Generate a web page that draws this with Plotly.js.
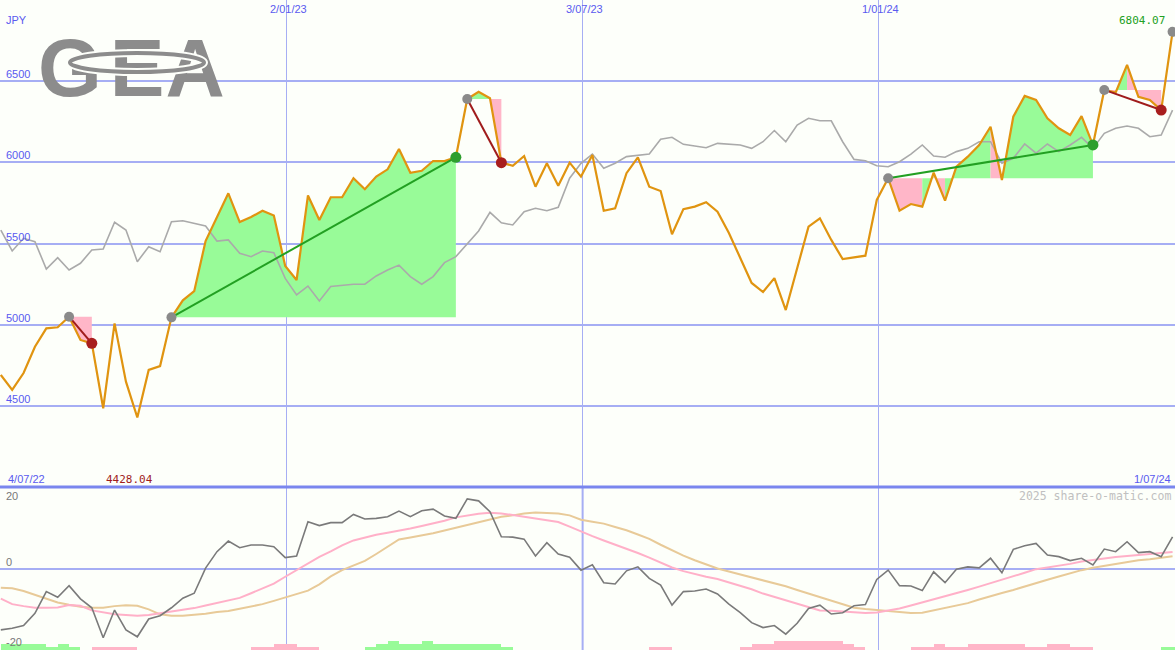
<!DOCTYPE html>
<html><head><meta charset="utf-8">
<script src="https://cdn.plot.ly/plotly-3.0.1.min.js"></script>
<style>html,body{margin:0;padding:0;background:#fdfffa;}#chart{width:1175px;height:650px;}</style>
</head><body><div id="chart"></div>
<script>
// ---- data ----
const firstWeek = '2022-07-10';   // weekly closes, one per week
const price = [4690,4598,4702,4864,4977,4984,5049,4906,4885,4485,
  5008,4649,4428.04,4721,4745,5045,5150,5206,5515,5663,
  5809,5632,5663,5702,5672,5362,5275,5796,5645,5785,
  5785,5902,5834,5912,5957,6082,5936,5948,6008,6008,
  6031,6390,6435,6395,5998,5979,6039,5850,5994,5856,
  5998,5912,6045,5702,5717,5933,6031,5850,5823,5557,
  5712,5727,5754,5696,5565,5411,5257,5201,5287,5090,
  5355,5604,5655,5522,5404,5416,5425,5768,5902,5702,
  5743,5727,5936,5764,5973,6035,6107,6219,5891,6281,
  6409,6384,6271,6210,6168,6285,6107,6446,6430,6600,
  6404,6384,6322,6804.07];
const indexLine = [5583,5454,5532,5511,5343,5413,5337,5378,5460,5466,
  5631,5583,5388,5480,5449,5634,5640,5624,5608,5515,
  5522,5440,5419,5454,5443,5285,5183,5238,5146,5235,
  5244,5249,5250,5300,5337,5367,5296,5249,5296,5382,
  5419,5500,5577,5692,5628,5614,5696,5717,5702,5723,
  5902,5994,6051,5963,5994,6035,6041,6051,6142,6154,
  6111,6102,6090,6117,6111,6107,6086,6127,6196,6127,
  6230,6271,6256,6256,6127,6018,6010,5979,5973,6004,
  6051,6107,6039,6031,6066,6086,6127,6127,5994,6025,
  6113,6056,6113,6066,6107,6154,6086,6179,6210,6224,
  6210,6158,6168,6322];
const osc = [-18.6,-18.1,-17.3,-13.6,-7.0,-8.7,-5.2,-9.2,-11.9,-21.0,
  -12.6,-18.6,-20.7,-15.3,-14.3,-11.9,-9.0,-7.5,0.1,5.1,
  8.3,6.3,7.1,7.1,6.6,3.3,3.8,14.2,13.0,13.9,
  13.9,16.4,15.0,15.2,15.7,17.4,15.7,17.5,18.0,15.9,
  15.2,21.1,20.5,17.2,9.6,9.5,8.9,3.8,7.8,4.4,
  3.4,-0.5,1.1,-4.3,-4.7,-0.7,0.5,-3.0,-5.0,-11.1,
  -7.0,-6.8,-6.2,-7.7,-10.8,-13.4,-16.4,-17.9,-17.3,-19.9,
  -16.6,-12.1,-11.1,-13.8,-13.4,-11.3,-10.9,-3.3,-0.5,-5.2,
  -5.3,-6.7,-1.0,-4.3,-0.2,0.5,0.2,3.1,-1.3,5.8,
  6.9,7.6,4.1,3.6,2.4,3.1,1.1,5.9,5.1,8.1,
  4.8,5.1,3.6,9.6];
const oscFast = [-9.1,-10.8,-11.4,-11.9,-11.9,-11.8,-11.1,-11.3,-12.7,-13.3,
  -13.9,-14.1,-14.3,-14.1,-13.6,-12.9,-12.5,-12.0,-11.2,-10.5,
  -9.7,-8.9,-7.5,-6.1,-4.6,-2.5,-0.5,1.4,3.5,5.2,
  7.0,8.5,9.4,10.2,10.8,11.4,12.1,12.9,13.6,14.5,
  15.5,16.1,16.6,16.9,16.7,16.2,15.7,15.2,14.7,14.1,
  12.7,11.2,9.8,8.5,7.3,6.0,4.7,3.3,1.7,0.3,
  -0.8,-1.7,-2.5,-3.2,-4.2,-5.1,-6.3,-7.6,-8.6,-9.6,
  -10.6,-11.6,-12.7,-12.8,-13.1,-13.4,-13.5,-13.3,-12.8,-12.1,
  -11.2,-10.3,-9.4,-8.5,-7.5,-6.5,-5.5,-4.5,-3.4,-2.4,
  -1.3,-0.2,0.3,0.8,1.4,2.1,2.6,3.1,3.5,3.8,
  4.1,4.4,4.7,5.0];
const oscSlow = [-5.8,-6.0,-6.8,-8.0,-9.3,-10.3,-11.0,-11.6,-11.9,-11.9,
  -11.4,-11.1,-11.3,-12.4,-13.9,-14.3,-14.3,-14.1,-13.7,-13.2,
  -12.9,-12.2,-11.6,-10.8,-9.8,-8.8,-7.7,-6.7,-4.8,-2.4,
  -0.5,1.0,2.3,4.4,6.6,8.8,9.4,10.0,10.7,11.5,
  12.3,13.1,13.9,14.8,15.7,16.1,16.7,17.0,16.9,16.7,
  16.1,14.8,14.2,13.6,12.6,11.6,10.3,9.0,7.2,5.5,
  3.9,2.5,1.2,0.0,-0.9,-1.8,-2.7,-3.5,-4.5,-5.4,
  -6.5,-7.6,-8.6,-9.6,-10.8,-11.9,-12.3,-12.6,-12.9,-13.1,
  -13.5,-13.4,-12.7,-12.0,-11.3,-10.5,-9.4,-8.3,-7.4,-6.5,
  -5.4,-4.4,-3.4,-2.4,-1.4,-0.5,0.2,0.8,1.5,2.1,
  2.5,2.8,3.3,3.7];
const barLevels = [2,2,2,2,1,2,1,0,-1,-1,
  -1,-1,0,0,0,0,0,0,0,0,
  0,0,-1,-1,-2,-2,-1,-1,0,0,
  0,0,1,2,3,2,2,3,2,2,
  2,2,2,2,1,0,0,0,0,0,
  0,0,0,0,0,0,0,-1,-1,0,
  0,0,0,0,0,-1,-2,-2,-3,-3,
  -3,-3,-3,-3,-2,-1,0,0,0,0,
  -1,-1,-2,-1,-1,-2,-2,-2,-2,-2,
  -1,-1,-2,-2,-1,-1,0,0,0,0,
  0,0,1,1];
const sigStart = [6,15,41,78,97,103];
const sigEnd   = [8,40,44,96,102,null];
const priceTicks = [4500,5000,5500,6000,6500];
const dateTicks = ['2023-01-02','2023-07-03','2024-01-01'];
const dateTickText = ['2/01/23','3/07/23','1/01/24'];
const oscTicks = [20,0,-20];
const oscTickText = ['20','0','-20'];
const currency = 'JPY';
const firstLabel = '4/07/22', lastLabel = '1/07/24';
const watermark = '2025 share-o-matic.com';
const logoLetters = ['G','E','A'];

// ---- styles ----
const BG = '#fdfffa', GRID = '#a6aef4', SEP = '#7a86ee', LBL = '#5a5af0';
const ORANGE = '#e09410', GREYLINE = '#aaaaaa', GFILL = '#98fb98', PFILL = '#ffb6c8';
const GTREND = '#22a022', RTREND = '#a01c1c', LOGO = '#8c8c8c';
const H = 650, LOWER = 163 / 650;

// weekly dates
const dates = [];
{ const d0 = new Date(firstWeek + 'T00:00:00Z');
  for (let k = 0; k < price.length; k++) {
    const d = new Date(d0.getTime() + k * 7 * 86400000);
    dates.push(d.toISOString().slice(0, 10));
  } }

const traces = [];
// fills between price and the signal's entry level
sigStart.forEach((s, i) => {
  const e = sigEnd[i]; if (e === null) return;
  const base = price[s];
  let a = s;
  while (a < e) {
    const up = price[a + 1] >= base;
    let b = a;
    while (b + 1 < e && (price[b + 2] >= base) === up) b++;
    const xs = dates.slice(a, b + 2), ys = price.slice(a, b + 2);
    xs.push(dates[b + 1], dates[a]); ys.push(base, base);
    traces.push({x: xs, y: ys, type: 'scatter', mode: 'lines', fill: 'toself',
      fillcolor: up ? GFILL : PFILL, line: {width: 0}, hoverinfo: 'skip',
      xaxis: 'x', yaxis: 'y'});
    a = b + 1;
  }
});
traces.push({x: dates, y: indexLine, type: 'scatter', mode: 'lines',
  line: {color: GREYLINE, width: 1.6}, xaxis: 'x', yaxis: 'y'});
traces.push({x: dates, y: price, type: 'scatter', mode: 'lines',
  line: {color: ORANGE, width: 2.2}, xaxis: 'x', yaxis: 'y'});
sigStart.forEach((s, i) => {
  const e = sigEnd[i]; if (e === null) return;
  const gain = price[e] >= price[s];
  traces.push({x: [dates[s], dates[e]], y: [price[s], price[e]], type: 'scatter', mode: 'lines',
    line: {color: gain ? GTREND : RTREND, width: 2}, xaxis: 'x', yaxis: 'y'});
});
traces.push({x: sigStart.map(s => dates[s]), y: sigStart.map(s => price[s]), type: 'scatter',
  mode: 'markers', marker: {color: '#8a8a8a', size: 10}, xaxis: 'x', yaxis: 'y'});
const ends = sigEnd.map((e, i) => [e, sigStart[i]]).filter(p => p[0] !== null);
traces.push({x: ends.map(p => dates[p[0]]), y: ends.map(p => price[p[0]]), type: 'scatter',
  mode: 'markers', marker: {color: ends.map(p => price[p[0]] >= price[p[1]] ? '#2e9e2e' : '#a81e1e'), size: 11},
  xaxis: 'x', yaxis: 'y'});

// lower panel
traces.push({x: dates, y: barLevels.map(Math.abs), type: 'bar', width: 7 * 86400000, offset: 0,
  marker: {color: barLevels.map(v => v >= 0 ? GFILL : PFILL), line: {width: 0}},
  xaxis: 'x2', yaxis: 'y3'});
traces.push({x: dates, y: oscSlow, type: 'scatter', mode: 'lines', line: {color: '#e8ca98', width: 2}, xaxis: 'x2', yaxis: 'y2'});
traces.push({x: dates, y: oscFast, type: 'scatter', mode: 'lines', line: {color: '#ffb0c8', width: 2}, xaxis: 'x2', yaxis: 'y2'});
traces.push({x: dates, y: osc, type: 'scatter', mode: 'lines', line: {color: '#7a7a7a', width: 1.6}, xaxis: 'x2', yaxis: 'y2'});

// logo letters (pixel-space helper axes x4/y4)
traces.push({x: [70, 137, 195], y: [75, 75, 75], type: 'scatter', mode: 'text', text: logoLetters,
  textposition: 'middle center', textfont: {family: 'Liberation Sans, Arial, sans-serif', size: 82, color: LOGO, weight: 'bold'},
  xaxis: 'x4', yaxis: 'y4', hoverinfo: 'skip'});

// annotations
const py = p => 1 - p / H;
const ann = [];
const f = (size, color, family) => ({size, color, family: family || 'Liberation Sans, Arial, sans-serif'});
priceTicks.forEach(v => ann.push({xref: 'paper', x: 0, xanchor: 'left', xshift: 4, yref: 'y', y: v,
  yanchor: 'middle', yshift: 7, text: String(v), showarrow: false, font: f(11, LBL)}));
dateTicks.forEach((d, i) => ann.push({xref: 'x', x: d, xanchor: 'center', xshift: 2, yref: 'paper', y: py(9),
  yanchor: 'middle', text: dateTickText[i], showarrow: false, font: f(11, LBL)}));
ann.push({xref: 'paper', x: 0, xanchor: 'left', xshift: 4, yref: 'paper', y: py(20), yanchor: 'middle',
  text: currency, showarrow: false, font: f(11, LBL)});
ann.push({xref: 'paper', x: 0, xanchor: 'left', xshift: 6, yref: 'paper', y: py(479), yanchor: 'middle',
  text: firstLabel, showarrow: false, font: f(11, LBL)});
ann.push({xref: 'paper', x: 1, xanchor: 'right', xshift: -2, yref: 'paper', y: py(479), yanchor: 'middle',
  text: lastLabel, showarrow: false, font: f(11, LBL)});
const maxI = price.indexOf(Math.max(...price)), minI = price.indexOf(Math.min(...price));
ann.push({xref: 'x', x: dates[maxI], xanchor: 'right', xshift: -6, yref: 'paper', y: py(20), yanchor: 'middle',
  text: price[maxI].toFixed(2), showarrow: false, font: f(11, '#22a022', 'DejaVu Sans Mono, monospace')});
ann.push({xref: 'x', x: dates[minI], xanchor: 'center', xshift: -8, yref: 'paper', y: py(479), yanchor: 'middle',
  text: price[minI].toFixed(2), showarrow: false, font: f(11, '#a01c1c', 'DejaVu Sans Mono, monospace')});
const oscLabelY = [496, 562, 642];
oscTicks.forEach((v, i) => ann.push({xref: 'paper', x: 0, xanchor: 'left', xshift: 4, yref: 'paper', y: py(oscLabelY[i]),
  yanchor: 'middle', text: oscTickText[i], showarrow: false, font: f(11, '#787878')}));
ann.push({xref: 'paper', x: 1, xanchor: 'right', xshift: -2, yref: 'paper', y: py(496), yanchor: 'middle',
  text: watermark, showarrow: false, font: f(11.5, '#c0c0c0', 'DejaVu Sans Mono, monospace')});

const shapes = [
  {type: 'circle', xref: 'x4', yref: 'y4', x0: 70, x1: 204, y0: 53, y1: 72, line: {color: BG, width: 8}},
  {type: 'circle', xref: 'x4', yref: 'y4', x0: 70, x1: 204, y0: 53, y1: 72, line: {color: LOGO, width: 4}},
  {type: 'line', xref: 'paper', yref: 'paper', x0: 0, x1: 1, y0: LOWER, y1: LOWER, line: {color: SEP, width: 3}},
  {type: 'line', xref: 'x', yref: 'paper', x0: dateTicks[1], x1: dateTicks[1], y0: 0, y1: LOWER, line: {color: GRID, width: 2}, layer: 'below'}
];

const layout = {
  width: 1175, height: 650, margin: {l: 0, r: 0, t: 0, b: 0},
  paper_bgcolor: BG, plot_bgcolor: 'rgba(0,0,0,0)', showlegend: false, bargap: 0,
  xaxis: {type: 'date', range: ['2022-07-09 12:00', '2024-07-01 12:00'], anchor: 'y', tickvals: dateTicks,
    showticklabels: false, ticks: '', showgrid: true, gridcolor: GRID, gridwidth: 1, zeroline: false, showline: false},
  xaxis2: {type: 'date', matches: 'x', anchor: 'y2', tickvals: dateTicks, showticklabels: false, ticks: '',
    showgrid: true, gridcolor: GRID, gridwidth: 1, zeroline: false, showline: false},
  yaxis: {domain: [LOWER, 1], range: [4000, 7000], tickvals: priceTicks, showticklabels: false, ticks: '',
    showgrid: true, gridcolor: GRID, gridwidth: 2, zeroline: false, showline: false},
  yaxis2: {domain: [0, LOWER], range: [-24.7, 24.7], tickvals: [0], showticklabels: false, ticks: '',
    showgrid: true, gridcolor: GRID, gridwidth: 2, zeroline: false, showline: false},
  yaxis3: {overlaying: 'y2', anchor: 'x2', range: [0, 52.6], visible: false},
  xaxis4: {domain: [0, 1], range: [0, 1175], anchor: 'y4', visible: false, showgrid: false, zeroline: false},
  yaxis4: {domain: [0, 1], range: [650, 0], anchor: 'x4', visible: false, showgrid: false, zeroline: false},
  annotations: ann, shapes: shapes
};
Plotly.newPlot('chart', traces, layout, {displayModeBar: false, staticPlot: true});
</script></body></html>
